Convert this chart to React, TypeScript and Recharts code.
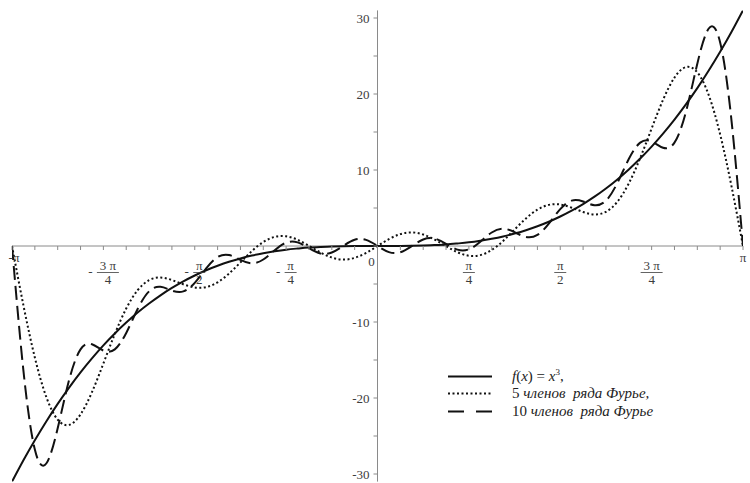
import { LineChart, Line, XAxis, YAxis, ReferenceLine, Legend } from "recharts";

// x in steps of π/32, from -π to π
const xSteps = [
  -32, -31, -30, -29, -28, -27, -26, -25, -24, -23, -22, -21, -20, -19, -18, -17,
  -16, -15, -14, -13, -12, -11, -10, -9, -8, -7, -6, -5, -4, -3, -2, -1,
  0,
  1, 2, 3, 4, 5, 6, 7, 8, 9, 10, 11, 12, 13, 14, 15, 16,
  17, 18, 19, 20, 21, 22, 23, 24, 25, 26, 27, 28, 29, 30, 31, 32,
];

// f(x) = x^3
const cubeValues = [
  -31.01, -28.19, -25.55, -23.08, -20.77, -18.63, -16.63, -14.79, -13.08, -11.51, -10.08, -8.76,
  -7.57, -6.49, -5.52, -4.65, -3.88, -3.19, -2.6, -2.08, -1.64, -1.26, -0.95, -0.69,
  -0.48, -0.33, -0.2, -0.12, -0.06, -0.03, -0.01, 0,
  0,
  0, 0.01, 0.03, 0.06, 0.12, 0.2, 0.33, 0.48, 0.69, 0.95, 1.26, 1.64,
  2.08, 2.6, 3.19, 3.88, 4.65, 5.52, 6.49, 7.57, 8.76, 10.08, 11.51, 13.08,
  14.79, 16.63, 18.63, 20.77, 23.08, 25.55, 28.19, 31.01,
];

// 5 terms of the Fourier series
const fourier5Values = [
  0, -7.81, -14.68, -19.86, -22.85, -23.54, -22.16, -19.23, -15.46, -11.58, -8.23, -5.82,
  -4.5, -4.15, -4.48, -5.04, -5.46, -5.41, -4.78, -3.63, -2.16, -0.67, 0.52, 1.2,
  1.28, 0.82, 0.02, -0.85, -1.52, -1.79, -1.56, -0.91,
  0,
  0.91, 1.56, 1.79, 1.52, 0.85, -0.02, -0.82, -1.28, -1.2, -0.52, 0.67, 2.16,
  3.63, 4.78, 5.41, 5.46, 5.04, 4.48, 4.15, 4.5, 5.82, 8.23, 11.58, 15.46,
  19.23, 22.16, 23.54, 22.85, 19.86, 14.68, 7.81, 0,
];

// 10 terms of the Fourier series
const fourier10Values = [
  0, -16.41, -26.79, -28.62, -23.99, -17.63, -13.6, -12.92, -13.76, -13.6, -11.44, -8.29,
  -5.96, -5.37, -5.86, -5.97, -4.85, -2.94, -1.46, -1.19, -1.82, -2.27, -1.78, -0.56,
  0.44, 0.48, -0.29, -0.98, -0.86, 0.01, 0.82, 0.8,
  0,
  -0.8, -0.82, -0.01, 0.86, 0.98, 0.29, -0.48, -0.44, 0.56, 1.78, 2.27, 1.82,
  1.19, 1.46, 2.94, 4.85, 5.97, 5.86, 5.37, 5.96, 8.29, 11.44, 13.6, 13.76,
  12.92, 13.6, 17.63, 23.99, 28.62, 26.79, 16.41, 0,
];

const xTickSteps = [
  -32, -30, -28, -26, -24, -22, -20, -18, -16, -14, -12, -10, -8, -6, -4, -2,
  0, 2, 4, 6, 8, 10, 12, 14, 16, 18, 20, 22, 24, 26, 28, 30, 32,
];
const xLabelSteps = [-32, -24, -16, -8, 0, 8, 16, 24, 32];
const xLabels = ["-π", "-3π/4", "-π/2", "-π/4", "0", "π/4", "π/2", "3π/4", "π"];

const yTickValues = [-30, -25, -20, -15, -10, -5, 0, 5, 10, 15, 20, 25, 30];
const yLabelValues = [-30, -20, -10, 10, 20, 30];
const yLabels = ["-30", "-20", "-10", "10", "20", "30"];

const legendOrder = ["cube", "f5", "f10"];

const W = 750;
const H = 483;
const LEFT = 12;
const RIGHT = 7;
const TOP = 10.4;
const BOTTOM = 1.4;
const ZERO_X = LEFT + (W - LEFT - RIGHT) / 2;
const ZERO_Y = TOP + (H - TOP - BOTTOM) / 2;

const AXIS = "#8a8a8a";
const TEXT = "#3c3c3c";
const FONT = "'Liberation Serif', 'Times New Roman', serif";
const INK = "#111";

const data = xSteps.map((s, i) => ({
  s,
  cube: cubeValues[i],
  f5: fourier5Values[i],
  f10: fourier10Values[i],
}));

function renderXLabel(x: number, label: string) {
  const common = { fontFamily: FONT, fontSize: 13, fill: TEXT, textAnchor: "middle" as const };
  if (label === "0") {
    return <text x={x - 6} y={266} {...common}>0</text>;
  }
  if (!label.includes("/")) {
    return <text x={label.startsWith("-") ? x + 2 : x} y={262} {...common}>{label}</text>;
  }
  const neg = label.startsWith("-");
  const [num, den] = (neg ? label.slice(1) : label).split("/");
  const numText = num.length > 1 ? num.replace("π", " π") : num;
  const barW = num.length > 1 ? 22 : 12;
  const groupW = (neg ? 9 : 0) + barW;
  const left = x - groupW / 2;
  const barX = left + (neg ? 9 : 0);
  return (
    <g>
      {neg && <text x={left + 2.5} y={276} {...common}>-</text>}
      <text x={barX + barW / 2} y={269.5} {...common}>{numText}</text>
      <line x1={barX} y1={272.5} x2={barX + barW} y2={272.5} stroke={TEXT} strokeWidth={0.8} />
      <text x={barX + barW / 2} y={283.5} {...common}>{den}</text>
    </g>
  );
}

const renderXTick = (props: any) => {
  const { x, payload } = props;
  const idx = xLabelSteps.indexOf(payload.value);
  return (
    <g>
      <line x1={x} y1={ZERO_Y} x2={x} y2={ZERO_Y + 4} stroke={AXIS} />
      {idx >= 0 && renderXLabel(x, xLabels[idx])}
    </g>
  );
};

const renderYTick = (props: any) => {
  const { y, payload } = props;
  const idx = yLabelValues.indexOf(payload.value);
  return (
    <g>
      <line x1={ZERO_X - 4} y1={y} x2={ZERO_X} y2={y} stroke={AXIS} />
      {idx >= 0 && (
        <text x={ZERO_X - 8} y={y + 4.5} textAnchor="end" fontFamily={FONT} fontSize={13} fill={TEXT}>
          {yLabels[idx]}
        </text>
      )}
    </g>
  );
};

const legendDash: Record<string, string | undefined> = {
  cube: undefined,
  f5: "2 2.5",
  f10: "16 12",
};

const legendText: Record<string, any> = {
  cube: (
    <span>
      <i>f</i>(<i>x</i>) = <i>x</i>
      <sup style={{ fontSize: 9, lineHeight: 0 }}>3</sup>,
    </span>
  ),
  f5: (
    <span>
      5 <i>членов  ряда Фурье,</i>
    </span>
  ),
  f10: (
    <span>
      10 <i>членов  ряда Фурье</i>
    </span>
  ),
};

const renderLegend = (props: any) => {
  const items = [...(props.payload || [])].sort(
    (a: any, b: any) => legendOrder.indexOf(a.dataKey) - legendOrder.indexOf(b.dataKey)
  );
  return (
    <div style={{ fontFamily: FONT, fontSize: 15, color: "#222", lineHeight: "17px" }}>
      {items.map((entry: any) => (
        <div
          key={entry.dataKey}
          style={{ display: "flex", alignItems: "center", height: 17.5, whiteSpace: "pre" }}
        >
          <svg width={46} height={17} style={{ marginRight: 20, flex: "none" }}>
            <line
              x1={2}
              y1={8.5}
              x2={46}
              y2={8.5}
              stroke={INK}
              strokeWidth={2}
              strokeDasharray={legendDash[entry.dataKey]}
            />
          </svg>
          {legendText[entry.dataKey]}
        </div>
      ))}
    </div>
  );
};

export default function App() {
  return (
    <div style={{ position: "absolute", left: 0, top: 0, background: "#fff" }}>
      <LineChart
        width={W}
        height={H}
        data={data}
        margin={{ top: TOP, right: RIGHT, bottom: BOTTOM - 1, left: LEFT - 1 }}
      >
        <XAxis
          type="number"
          dataKey="s"
          domain={[-32, 32]}
          ticks={xTickSteps}
          interval={0}
          axisLine={false}
          tickLine={false}
          height={1}
          tick={renderXTick}
          allowDataOverflow
        />
        <YAxis
          type="number"
          domain={[-31, 31]}
          ticks={yTickValues}
          interval={0}
          axisLine={false}
          tickLine={false}
          width={1}
          tick={renderYTick}
          allowDataOverflow
        />
        <ReferenceLine x={0} stroke={AXIS} />
        <ReferenceLine y={0} stroke={AXIS} />
        <Legend
          layout="vertical"
          align="center"
          verticalAlign="middle"
          content={renderLegend}
          wrapperStyle={{ left: 446, top: 367.5, width: 280 }}
        />
        <Line
          type="natural"
          dataKey="cube"
          name="f(x) = x³"
          stroke={INK}
          strokeWidth={2}
          dot={false}
          isAnimationActive={false}
        />
        <Line
          type="natural"
          dataKey="f5"
          name="5 членов ряда Фурье"
          stroke={INK}
          strokeWidth={2}
          strokeDasharray="2 2.5"
          dot={false}
          isAnimationActive={false}
        />
        <Line
          type="natural"
          dataKey="f10"
          name="10 членов ряда Фурье"
          stroke={INK}
          strokeWidth={2}
          strokeDasharray="14 6"
          dot={false}
          isAnimationActive={false}
        />
      </LineChart>
    </div>
  );
}
